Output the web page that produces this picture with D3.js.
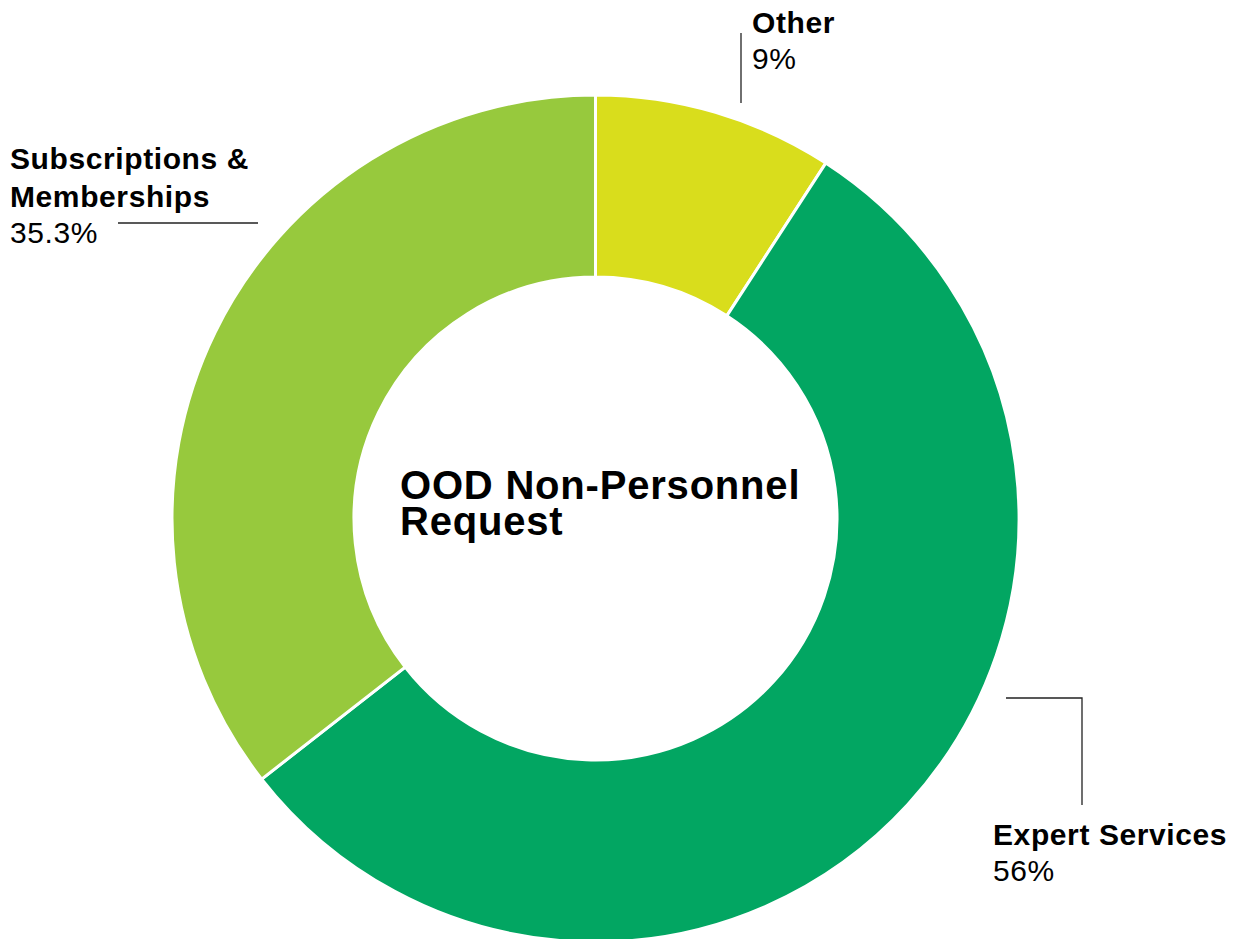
<!DOCTYPE html>
<html>
<head>
<meta charset="utf-8">
<script src="https://cdn.jsdelivr.net/npm/d3@7"></script>
<style>
  body { margin: 0; background: #fff; }
  text { font-family: "Liberation Sans", Arial, sans-serif; fill: #000; }
</style>
</head>
<body>
<script>
// chart data (slice sizes read from the drawn arcs, labels as printed)
var categories = ["Other", "Expert Services", "Subscriptions & Memberships"];
var values = [9.15, 55.3, 35.55];
var valueLabels = ["9%", "56%", "35.3%"];
var colors = ["#d9dd1c", "#02a662", "#97c93d"];

var width = 1240, height = 939;
var cx = 595.5, cy = 518.5,
    outerR = 423.5, innerR = 241.5;

var svg = d3.select("body")
  .append("svg")
    .attr("width", width)
    .attr("height", height);

var g = svg.append("g")
    .attr("transform", "translate(" + cx + "," + cy + ")");

var pie = d3.pie().sort(null).value(function(d) { return d; });
var arc = d3.arc().innerRadius(innerR).outerRadius(outerR);

var slices = pie(values);

g.selectAll("path.slice")
  .data(slices)
  .enter().append("path")
    .attr("class", "slice")
    .attr("d", arc)
    .attr("fill", function(d, i) { return colors[i]; })
    .attr("stroke", "#fff")
    .attr("stroke-width", 3);

// centre title
var title = svg.append("text")
    .attr("x", 400)
    .style("font-weight", "bold")
    .style("font-size", "40px")
    .style("letter-spacing", "0.8px");
title.append("tspan").attr("x", 400).attr("y", 499).text("OOD Non-Personnel");
title.append("tspan").attr("x", 400).attr("y", 535).text("Request");

// label layout (positions only)
var labelLayout = [
  { x: 752, lines: ["Other"], y: 33, leader: [[741, 33], [741, 103]] },
  { x: 10, lines: ["Subscriptions &", "Memberships"], y: 169, leader: [[118, 223], [258, 223]] },
  { x: 993, lines: ["Expert Services"], y: 845, leader: [[1006, 698], [1082, 698], [1082, 805]] }
];
var layoutIdx = [0, 2, 1];

labelLayout.forEach(function(l, k) {
  var i = layoutIdx[k];
  var t = svg.append("text")
      .style("font-size", "30px")
      .style("letter-spacing", "0.6px");
  l.lines.forEach(function(line, j) {
    t.append("tspan")
      .attr("x", l.x)
      .attr("y", l.y + j * 38)
      .style("font-weight", "bold")
      .text(line);
  });
  t.append("tspan")
    .attr("x", l.x)
    .attr("y", l.y + l.lines.length * 38 - 2)
    .text(valueLabels[i]);

  svg.append("path")
    .attr("d", d3.line()(l.leader))
    .attr("fill", "none")
    .attr("stroke", "#222")
    .attr("stroke-width", 1.3);
});
</script>
</body>
</html>
